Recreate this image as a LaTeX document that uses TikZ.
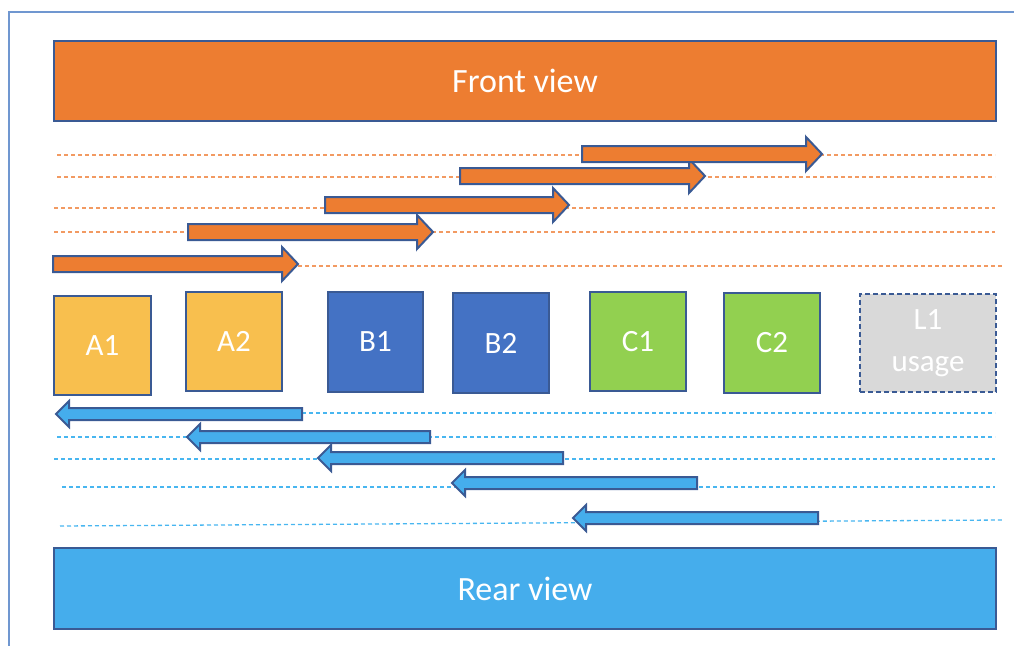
\documentclass[tikz,border=0pt]{standalone}
\usepackage{fontspec}
\setmainfont{Carlito}
\definecolor{outl}{HTML}{3A5A94}
\definecolor{frontc}{HTML}{ED7D31}
\definecolor{rearc}{HTML}{45ADEC}
\definecolor{yelc}{HTML}{F8BF4E}
\definecolor{bluc}{HTML}{4472C4}
\definecolor{grnc}{HTML}{92D050}
\definecolor{gryc}{HTML}{D9D9D9}
\definecolor{framec}{HTML}{7097D0}
\definecolor{odash}{HTML}{F29A62}
\definecolor{bdash}{HTML}{48B6F0}
\begin{document}
\begin{tikzpicture}[x=1pt,y=-1pt,
  viewbar/.style={draw=outl,line width=2pt,text=white,font=\fontsize{34}{40}\selectfont},
  unitbox/.style={draw=outl,line width=2pt,text=white,font=\fontsize{31}{40}\selectfont,align=center},
  oarrow/.style={draw=outl,line width=2pt,fill=frontc,line join=miter},
  barrow/.style={draw=outl,line width=2pt,fill=rearc,line join=miter},
  oline/.style={draw=odash,line width=1.3pt,dash pattern=on 4pt off 3pt},
  bline/.style={draw=bdash,line width=1.3pt,dash pattern=on 4pt off 3pt}]
\useasboundingbox (0,0) rectangle (1014,645);
\begin{scope}
\clip (0,0) rectangle (1014,645);
\draw[framec,line width=2pt] (9,660) -- (9,12) -- (1030,12);
\end{scope}
% view bars
\node[viewbar,fill=frontc,minimum width=942pt,minimum height=80pt,anchor=north west] (front) at (53,40) {Front view};
\node[viewbar,fill=rearc,minimum width=942pt,minimum height=81pt,anchor=north west] (rear) at (53,547) {Rear view};
% boxes
\node[unitbox,fill=yelc,minimum width=97pt,minimum height=99pt,anchor=north west] (a1) at (53,295) {A1};
\node[unitbox,fill=yelc,minimum width=96pt,minimum height=99pt,anchor=north west] (a2) at (185,291) {A2};
\node[unitbox,fill=bluc,minimum width=95pt,minimum height=100pt,anchor=north west] (b1) at (327,291) {B1};
\node[unitbox,fill=bluc,minimum width=96pt,minimum height=100pt,anchor=north west] (b2) at (452,292) {B2};
\node[unitbox,fill=grnc,minimum width=96pt,minimum height=99pt,anchor=north west] (c1) at (589,291) {C1};
\node[unitbox,fill=grnc,minimum width=96pt,minimum height=100pt,anchor=north west] (c2) at (723,292) {C2};
\node[unitbox,fill=gryc,dashed,dash pattern=on 5pt off 3pt,minimum width=136pt,minimum height=98pt,anchor=north west,font=\fontsize{31}{42}\selectfont] (l1) at (859,293) {L1\\usage};
% orange dashed guide lines
\draw[oline] (57,155) -- (995,155);
\draw[oline] (57,177) -- (995,177);
\draw[oline] (54,208) -- (995,208);
\draw[oline] (54,232) -- (995,232);
\draw[oline] (298,266) -- (1002,266);
% blue dashed guide lines
\draw[bline] (302,413) -- (995,413);
\draw[bline] (57,437) -- (995,437);
\draw[bline] (54,459) -- (995,459);
\draw[bline] (62,487) -- (995,487);
\draw[bline] (60,526) -- (1002,520);
% orange arrows (left x, tip x, centre y)
\foreach \l/\t/\c in {53/298/264, 188/433/232, 325/569/205, 460/705/176, 582/822/154}{
  \draw[oarrow] (\l,\c-8) -- (\t-16,\c-8) -- (\t-16,\c-17) -- (\t,\c) -- (\t-16,\c+17) -- (\t-16,\c+8) -- (\l,\c+8) -- cycle;
}
% blue arrows (tip x, right x, centre y)
\foreach \t/\r/\c in {56/302/414, 187/430/437, 318/563/458, 452/697/483, 573/818/518}{
  \draw[barrow] (\r,\c-6) -- (\t+13,\c-6) -- (\t+13,\c-13) -- (\t,\c) -- (\t+13,\c+13) -- (\t+13,\c+6) -- (\r,\c+6) -- cycle;
}
\end{tikzpicture}
\end{document}
